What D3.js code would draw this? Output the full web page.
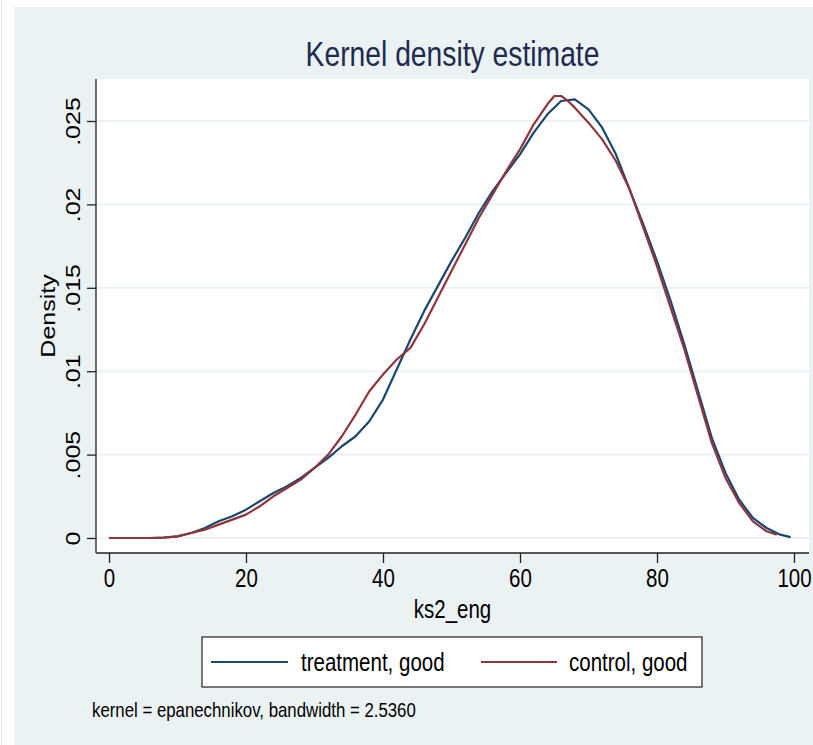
<!DOCTYPE html>
<html>
<head>
<meta charset="utf-8">
<script src="https://cdn.jsdelivr.net/npm/d3@7"></script>
<style>
  body { margin: 0; background: #ffffff; }
  svg { display: block; }
  text { font-family: "Liberation Sans", Arial, Helvetica, sans-serif; }
</style>
</head>
<body>
<svg id="chart" width="813" height="745"></svg>
<script>
// Axis ticks and labels
const xTicks = [0, 20, 40, 60, 80, 100];
const yTicks = [0, 0.005, 0.01, 0.015, 0.02, 0.025];
const yTickLabels = ["0", ".005", ".01", ".015", ".02", ".025"];

// Kernel density of ks2_eng, treatment group
const treatmentX = [0, 2, 4, 6, 8, 10, 12, 14, 16, 18, 20, 22, 24, 26, 28, 30, 32, 34, 36, 38, 40,
  42, 44, 46, 48, 50, 52, 54, 56, 58, 60, 62, 64, 66, 68, 70, 72, 74, 76, 78, 80,
  82, 84, 86, 88, 90, 92, 94, 96, 98, 99.5];
const treatmentDensity = [0, 0, 0, 0, 0.00003, 0.0001, 0.0003, 0.0006, 0.001, 0.0013, 0.0017,
  0.0022, 0.0027, 0.0031, 0.0036, 0.0042, 0.0048, 0.0055, 0.0061, 0.007, 0.0083,
  0.0101, 0.0119, 0.0136, 0.0151, 0.0166, 0.018, 0.0195, 0.0208, 0.0219, 0.023,
  0.0243, 0.0254, 0.0262, 0.0263, 0.0257, 0.0246, 0.023, 0.0209, 0.0188, 0.0166,
  0.0142, 0.0116, 0.0088, 0.006, 0.0039, 0.0023, 0.0012, 0.0006, 0.0002, 0.00005];

// Kernel density of ks2_eng, control group
const controlX = [0, 2, 4, 6, 8, 10, 12, 14, 16, 18, 20, 22, 24, 26, 28, 30, 32, 34, 36, 38, 40,
  42, 44, 46, 48, 50, 52, 54, 56, 58, 60, 62, 64, 65, 66, 67, 68, 70, 72, 74, 76, 78, 80,
  82, 84, 86, 88, 90, 92, 94, 96, 97.5];
const controlDensity = [0, 0, 0, 0, 0.00002, 0.0001, 0.0003, 0.0005, 0.0008, 0.0011, 0.0014,
  0.0019, 0.0025, 0.003, 0.0035, 0.0042, 0.005, 0.0061, 0.0074, 0.0088, 0.0098,
  0.0107, 0.0114, 0.0128, 0.0144, 0.016, 0.0176, 0.0192, 0.0206, 0.022, 0.0233,
  0.0248, 0.026, 0.0265, 0.0265, 0.0262, 0.0258, 0.0249, 0.0239, 0.0226, 0.0209, 0.0186, 0.0163,
  0.0138, 0.0113, 0.0085, 0.0057, 0.0036, 0.0021, 0.001, 0.0004, 0.0002];

const seriesNames = ["treatment, good", "control, good"];
const seriesColors = ["#1a476f", "#90353b"];

const titleText = "Kernel density estimate";
const xTitle = "ks2_eng";
const yTitle = "Density";
const noteText = "kernel = epanechnikov, bandwidth = 2.5360";

// Text is drawn horizontally condensed
const K = 0.82;
const squash = (x, y, rotate) =>
  `translate(${x},${y}) scale(${K},1)` + (rotate ? " rotate(-90)" : "");

const svg = d3.select("#chart");
const plot = { left: 96, right: 809, top: 79, bottom: 553 };

// Graph background
svg.append("rect").attr("x", 14).attr("y", 7).attr("width", 813 - 14).attr("height", 745 - 7)
  .attr("fill", "#eaf2f3");
svg.append("line").attr("x1", 1.5).attr("x2", 1.5).attr("y1", 0).attr("y2", 745)
  .attr("stroke", "#e3e8ea").attr("stroke-width", 1);

// Plot region
svg.append("rect").attr("x", plot.left).attr("y", plot.top)
  .attr("width", plot.right - plot.left).attr("height", plot.bottom - plot.top)
  .attr("fill", "#ffffff");

const x = d3.scaleLinear().domain([0, 100]).range([109, 794]);
const y = d3.scaleLinear().domain([0, 0.025]).range([538, 121]);

// Horizontal grid
svg.append("g").selectAll("line").data(yTicks).join("line")
  .attr("x1", plot.left).attr("x2", plot.right)
  .attr("y1", d => y(d)).attr("y2", d => y(d))
  .attr("stroke", "#eaf2f3").attr("stroke-width", 2);

// Density curves
const line = d3.line().x(d => x(d[0])).y(d => y(d[1]));
const treatment = treatmentX.map((v, i) => [v, treatmentDensity[i]]);
const control = controlX.map((v, i) => [v, controlDensity[i]]);
[treatment, control].forEach((pts, i) => {
  svg.append("path").datum(pts).attr("d", line)
    .attr("fill", "none").attr("stroke", seriesColors[i])
    .attr("stroke-width", 2.2).attr("stroke-linejoin", "round");
});

// Y axis
const yAxis = svg.append("g").attr("transform", `translate(${plot.left},0)`)
  .call(d3.axisLeft(y).tickValues(yTicks).tickFormat((d, i) => yTickLabels[i])
    .tickSize(9).tickSizeOuter(0));
yAxis.select(".domain").remove();
yAxis.selectAll(".tick line").attr("stroke", "#222").attr("stroke-width", 1.3);
yAxis.selectAll(".tick text")
  .attr("x", null).attr("dy", null).attr("text-anchor", "middle")
  .attr("transform", squash(-16, 0, true))
  .attr("font-size", 25).attr("font-family", null).attr("fill", "#000");
yAxis.append("line").attr("x1", 0).attr("x2", 0).attr("y1", plot.top).attr("y2", plot.bottom)
  .attr("stroke", "#222").attr("stroke-width", 1.3);

// X axis
const xAxis = svg.append("g").attr("transform", `translate(0,${plot.bottom})`)
  .call(d3.axisBottom(x).tickValues(xTicks).tickFormat(d3.format("d"))
    .tickSize(10).tickSizeOuter(0));
xAxis.select(".domain").remove();
xAxis.selectAll(".tick line").attr("stroke", "#222").attr("stroke-width", 1.3);
xAxis.selectAll(".tick text")
  .attr("y", null).attr("dy", null).attr("text-anchor", "middle")
  .attr("transform", squash(0, 34, false))
  .attr("font-size", 25).attr("font-family", null).attr("fill", "#000");
xAxis.append("line").attr("x1", plot.left).attr("x2", plot.right).attr("y1", 0).attr("y2", 0)
  .attr("stroke", "#222").attr("stroke-width", 1.3);

// Titles
const midX = (plot.left + plot.right) / 2;
svg.append("text").attr("transform", squash(midX, 66, false))
  .attr("text-anchor", "middle").attr("font-size", 34.5).attr("fill", "#1e2a4f")
  .text(titleText);
svg.append("text").attr("transform", squash(midX, 618, false))
  .attr("text-anchor", "middle").attr("font-size", 25).attr("fill", "#000")
  .text(xTitle);
svg.append("text").attr("transform", squash(55, (plot.top + plot.bottom) / 2, true))
  .attr("text-anchor", "middle").attr("font-size", 25).attr("fill", "#000")
  .text(yTitle);

// Legend
const legend = svg.append("g");
legend.append("rect").attr("x", 202).attr("y", 637).attr("width", 500).attr("height", 50)
  .attr("fill", "#ffffff").attr("stroke", "#222").attr("stroke-width", 1.2);
const legendItems = [
  { sx: 211, ex: 288, tx: 301 },
  { sx: 481, ex: 557, tx: 569 }
];
legendItems.forEach((it, i) => {
  legend.append("line").attr("x1", it.sx).attr("x2", it.ex).attr("y1", 662).attr("y2", 662)
    .attr("stroke", seriesColors[i]).attr("stroke-width", 2.2);
  legend.append("text").attr("transform", squash(it.tx, 671, false))
    .attr("font-size", 25).attr("fill", "#000").text(seriesNames[i]);
});

// Note
svg.append("text").attr("transform", squash(92, 717, false))
  .attr("font-size", 20.5).attr("fill", "#000").text(noteText);
</script>
</body>
</html>
